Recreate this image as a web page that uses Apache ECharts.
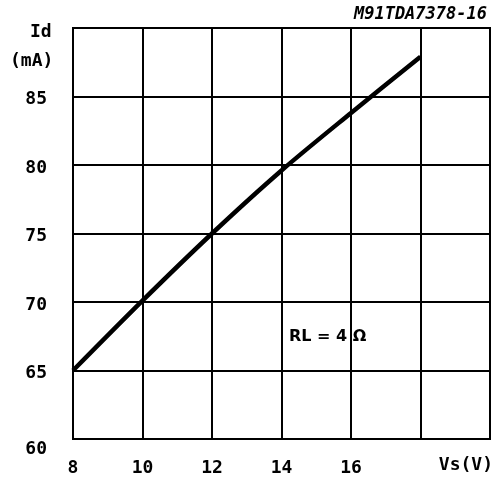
<!DOCTYPE html>
<html>
<head>
<meta charset="utf-8">
<script src="https://cdn.jsdelivr.net/npm/echarts@6/dist/echarts.min.js"></script>
<style>
  html, body { margin: 0; padding: 0; background: #fff; }
  #chart { width: 497px; height: 485px; }
</style>
</head>
<body>
<div id="chart"></div>
<script>
// Vs (V) vs Id (mA), RL = 4 ohm
const vs = [8, 10, 12, 14, 16, 18];
const id = [65, 70.1, 75, 79.6, 83.8, 87.9];
const xTicks = [8, 10, 12, 14, 16];
const yTicks = [60, 65, 70, 75, 80, 85];

const labelFont = {
  fontFamily: 'DejaVu Sans Mono',
  fontWeight: 'bold',
  fontSize: 18,
  color: '#000'
};

const chart = echarts.init(document.getElementById('chart'));

const option = {
  animation: false,
  backgroundColor: '#fff',
  grid: {
    left: 73, right: 7, top: 28, bottom: 46,
    show: true, borderColor: '#000', borderWidth: 2
  },
  xAxis: {
    type: 'value',
    min: 8, max: 20, interval: 2,
    axisLine: {lineStyle: {color: '#000', width: 2}},
    axisTick: {show: false},
    splitLine: {lineStyle: {color: '#000', width: 2}},
    axisLabel: Object.assign({
      margin: 20,
      formatter: v => xTicks.includes(v) ? String(v) : ''
    }, labelFont)
  },
  yAxis: {
    type: 'value',
    min: 60, max: 90, interval: 5,
    axisLine: {lineStyle: {color: '#000', width: 2}},
    axisTick: {show: false},
    splitLine: {lineStyle: {color: '#000', width: 2}},
    axisLabel: Object.assign({
      margin: 26,
      padding: [6, 0, 0, 0],
      formatter: v => v === 60 ? '{low|60}' : (yTicks.includes(v) ? String(v) : ''),
      rich: {
        low: Object.assign({padding: [14, 0, 0, 0]}, labelFont)
      }
    }, labelFont)
  },
  series: [{
    type: 'line',
    data: vs.map((v, i) => [v, id[i]]),
    symbol: 'none',
    smooth: 0.3,
    lineStyle: {color: '#000', width: 4.5}
  }],
  graphic: [
    {type: 'text', right: 10, top: 6, style: {
      text: 'M91TDA7378-16', fill: '#000',
      font: 'italic bold 17px "DejaVu Sans Mono"'
    }},
    {type: 'text', left: 30, top: 23, style: {
      text: 'Id', fill: '#000', font: 'bold 18px "DejaVu Sans Mono"'
    }},
    {type: 'text', left: 10, top: 52, style: {
      text: '(mA)', fill: '#000', font: 'bold 18px "DejaVu Sans Mono"'
    }},
    {type: 'text', right: 4, top: 456, style: {
      text: 'Vs(V)', fill: '#000', font: 'bold 18px "DejaVu Sans Mono"'
    }},
    {type: 'text', left: 289, top: 329, style: {
      text: 'RL = 4 Ω', fill: '#000', font: 'bold 16px "DejaVu Sans"'
    }}
  ]
};

chart.setOption(option);
</script>
</body>
</html>
